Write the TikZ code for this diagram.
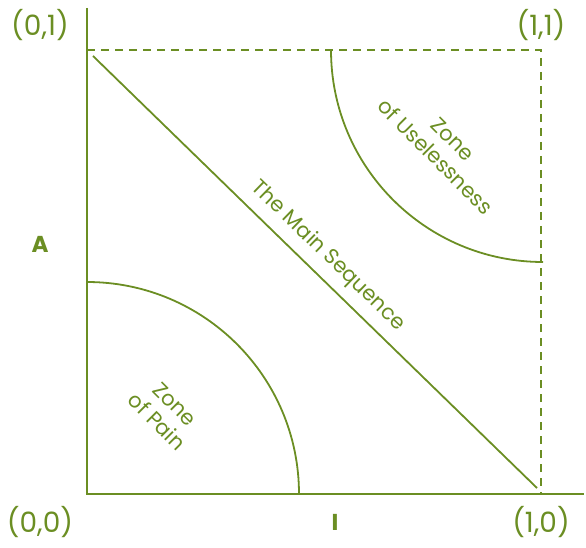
\documentclass[tikz,border=0pt]{standalone}
\usepackage{fontspec}
\setmainfont{Poppins}
\definecolor{olive}{RGB}{107,142,35}
\begin{document}
\begin{tikzpicture}[x=1pt,y=-1pt,
  ln/.style={draw=olive,line width=1.8pt},
  dsh/.style={draw=olive,line width=1.8pt,dash pattern=on 8pt off 6pt},
  lbl/.style={text=olive,font=\fontsize{28}{30}\selectfont,inner sep=0pt},
  axl/.style={text=olive,font=\fontsize{23}{26}\selectfont\bfseries,inner sep=0pt},
  zone/.style={text=olive,font=\fontsize{21}{25}\selectfont,align=center,inner sep=0pt,rotate=-45}]
\useasboundingbox (0,0) rectangle (586,548);
\coordinate (O) at (87,494);
\coordinate (Ytop) at (87,8);
\coordinate (Xend) at (584,494);
\coordinate (TL) at (87,50);
\coordinate (TR) at (541,50);
\coordinate (BR) at (541,494);
\coordinate (D1) at (93,56);
\coordinate (D2) at (537,488);
\draw[ln] (Ytop) -- (O) -- (Xend);
\draw[dsh] (TL) -- (TR) -- (BR);
\draw[ln] (D1) -- (D2);
\draw[ln] (87,282) arc[start angle=-90,end angle=0,radius=212];
\draw[ln] (331,50) arc[start angle=180,end angle=90,radius=212];
\node[lbl] (l01) at (40,25) {(0,1)};
\node[lbl] (l11) at (541,25) {(1,1)};
\node[lbl] (l00) at (40,522) {(0,0)};
\node[lbl] (l10) at (541,522) {(1,0)};
\node[axl] (la) at (40,244) {A};
\node[axl] (li) at (335,522) {I};
\node[zone,rotate=0.8] (ms) at (328,256) {The Main Sequence};
\node[zone] (zu) at (444,148) {Zone\\of Uselessness};
\node[zone] (zp) at (166,413) {Zone\\of Pain};
\end{tikzpicture}
\end{document}
